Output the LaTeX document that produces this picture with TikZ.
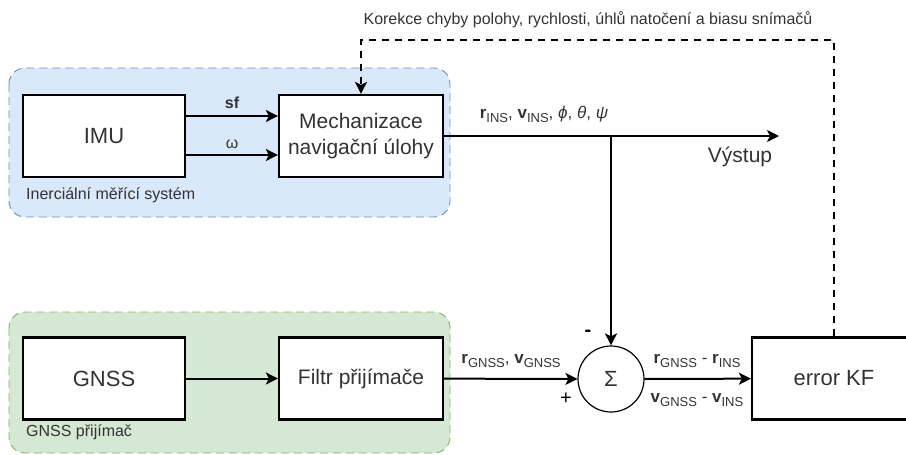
\documentclass[tikz,border=0pt]{standalone}
\usepackage{fontspec}
\setmainfont{Liberation Sans}
\usetikzlibrary{arrows.meta,calc}
\definecolor{insfill}{HTML}{DAE8FC}
\definecolor{insline}{HTML}{6C8EBF}
\definecolor{gnssfill}{HTML}{D5E8D4}
\definecolor{gnssline}{HTML}{82B366}
\definecolor{txt}{HTML}{333333}
% subscript used in the signal labels
\newcommand{\lowidx}[1]{\raisebox{-4pt}{\fontsize{13}{13}\selectfont #1}}
\tikzset{
  blockbox/.style={draw=black, line width=2.2pt, fill=white, minimum width=162pt,
    minimum height=82pt, inner sep=0pt, align=center, text=txt,
    font=\fontsize{21}{26}\selectfont},
  sumnode/.style={draw=black, line width=1.2pt, fill=white, circle,
    minimum size=66pt, inner sep=0pt, text=txt, font=\fontsize{22}{26}\selectfont},
  group/.style={line width=0.9pt, dash pattern=on 8pt off 5pt, rounded corners=16pt},
  arr/.style={line width=2pt, -{Stealth[length=12pt,width=12pt,inset=3pt]}},
  fb/.style={line width=2pt, dash pattern=on 7pt off 6pt,
    -{Stealth[length=12pt,width=12pt,inset=3pt]}},
  small/.style={text=txt, inner sep=0pt, font=\fontsize{16}{19}\selectfont},
  sig/.style={text=txt, inner sep=0pt, font=\fontsize{17}{20}\selectfont},
}
\begin{document}
\begin{tikzpicture}[x=1pt, y=-1pt]
\useasboundingbox (0,0) rectangle (906,455);

% subsystem groups
\draw[group, draw=insline, fill=insfill] (9,68) rectangle (450,217);
\draw[group, draw=gnssline, fill=gnssfill] (9,312) rectangle (450,453);
\node[small, anchor=west] (inslbl) at (26,195) {Inerciální měřící systém};
\node[small, anchor=west] (gnsslbl) at (26,432) {GNSS přijímač};

% blocks
\node[blockbox, font=\fontsize{22}{26}\selectfont] (imu) at (104,136) {IMU};
\node[blockbox, minimum width=164pt] (mech) at (361,136) {Mechanizace\\navigační úlohy};
\node[blockbox, font=\fontsize{22}{26}\selectfont] (gnss) at (104,378.5) {GNSS};
\node[blockbox, minimum width=164pt] (filt) at (361,378.5) {Filtr přijímače};
\node[sumnode] (sum) at (611,379) {Σ};
\node[blockbox, minimum width=164pt, font=\fontsize{22}{26}\selectfont] (kf) at (834,378.5) {error KF};

% IMU outputs
\draw[arr] ($(imu.east)+(0,-20)$) -- ($(mech.west)+(0,-20)$);
\draw[arr] ($(imu.east)+(0,19)$) -- ($(mech.west)+(0,19)$);
\node[small, font=\bfseries\fontsize{16}{19}\selectfont] (sflbl) at (232,103) {sf};
\node[small] (omlbl) at (232,144) {ω};

% navigation output and branch to the summation
\coordinate (out) at (779,136);
\coordinate (split) at (611,136);
\draw[arr] (mech.east) -- (out);
\draw[arr] (split) -- (sum.north);
\node[sig] (inslab) at (544,114) {\textbf{r}\lowidx{INS}, \textbf{v}\lowidx{INS}, \textit{ϕ}, \textit{θ}, \textit{ψ}};
\node[text=txt, inner sep=0pt, font=\fontsize{21}{25}\selectfont] (vyst) at (740,157) {Výstup};

% GNSS chain
\draw[arr] (gnss) -- (filt);
\draw[arr] (filt) -- (sum);
\draw[arr] (sum) -- (kf);
\node[sig] (gnsslab) at (511,361) {\textbf{r}\lowidx{GNSS}, \textbf{v}\lowidx{GNSS}};
\node[sig] (dr) at (697,361) {\textbf{r}\lowidx{GNSS} - \textbf{r}\lowidx{INS}};
\node[sig] (dv) at (697,400) {\textbf{v}\lowidx{GNSS} - \textbf{v}\lowidx{INS}};
\node[text=black, inner sep=0pt, font=\bfseries\fontsize{20}{20}\selectfont] (minus) at (588,333) {-};
\node[text=black, inner sep=0pt, font=\fontsize{20}{20}\selectfont] (plus) at (566,399) {+};

% correction feedback from the error filter
\coordinate (fbr) at (834,40);
\coordinate (fbl) at (361,40);
\draw[fb] (kf.north) -- (fbr) -- (fbl) -- (mech.north);
\node[small] (fblbl) at (588,20) {Korekce chyby polohy, rychlosti, úhlů natočení a biasu snímačů};
\end{tikzpicture}
\end{document}
